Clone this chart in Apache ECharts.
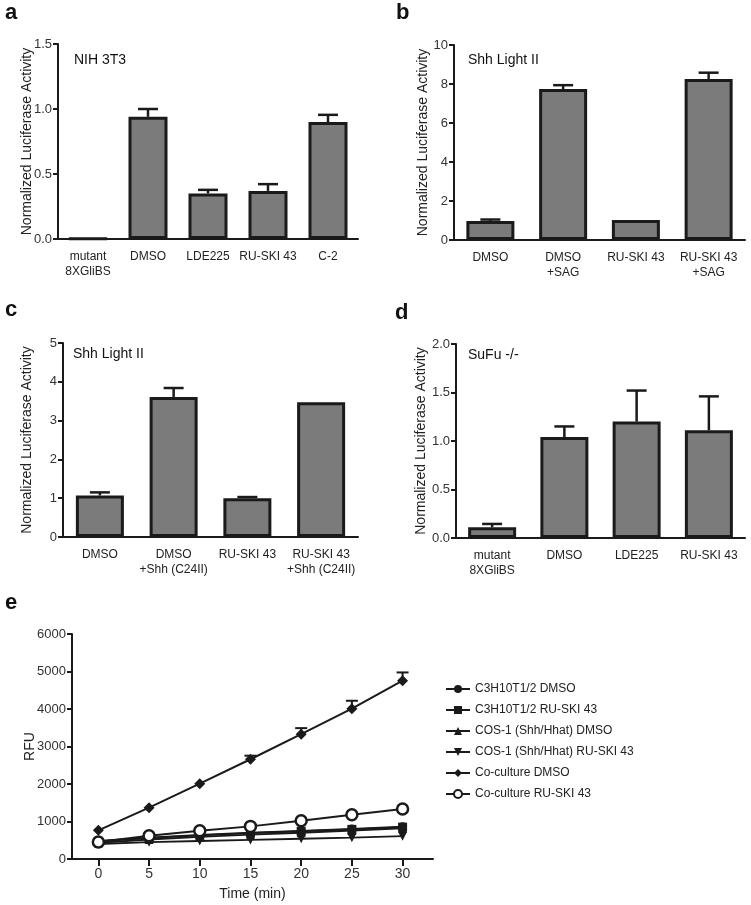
<!DOCTYPE html>
<html>
<head>
<meta charset="utf-8">
<script src="https://cdn.jsdelivr.net/npm/echarts@6/dist/echarts.min.js"></script>
<style>
  html, body { margin: 0; padding: 0; background: #fff; }
  #chart { width: 751px; height: 905px; }
</style>
</head>
<body>
<div id="chart"></div>
<script>
// panel a - NIH 3T3
const catsA = ["mutant\n8XGliBS", "DMSO", "LDE225", "RU-SKI 43", "C-2"];
const valsA = [0.005, 0.94, 0.35, 0.37, 0.9];
const errA = [0.005, 1.0, 0.378, 0.422, 0.955];

// panel b - Shh Light II + SAG
const catsB = ["DMSO", "DMSO\n+SAG", "RU-SKI 43", "RU-SKI 43\n+SAG"];
const valsB = [0.98, 7.74, 1.02, 8.26];
const errB = [1.05, 7.94, 1.02, 8.58];

// panel c - Shh Light II + Shh (C24II)
const catsC = ["DMSO", "DMSO\n+Shh (C24II)", "RU-SKI 43", "RU-SKI 43\n+Shh (C24II)"];
const valsC = [1.07, 3.61, 1.0, 3.47];
const errC = [1.15, 3.84, 1.03, 3.47];

// panel d - SuFu -/-
const catsD = ["mutant\n8XGliBS", "DMSO", "LDE225", "RU-SKI 43"];
const valsD = [0.11, 1.04, 1.2, 1.11];
const errD = [0.145, 1.15, 1.52, 1.46];

// panel e - RFU over time
const timeE = [0, 5, 10, 15, 20, 25, 30];
const c3hDmso = [480, 570, 640, 700, 750, 800, 860];
const c3hRuski = [470, 560, 630, 690, 740, 790, 850];
const cosDmso = [430, 520, 590, 650, 700, 760, 820];
const cosRuski = [400, 450, 480, 510, 540, 570, 610];
const coDmso = [765, 1370, 2010, 2660, 3330, 4010, 4755];
const coDmsoErr = [765, 1370, 2010, 2755, 3490, 4220, 4975];
const coRuski = [455, 620, 755, 870, 1020, 1180, 1335];
const timeTicks = [0, 5, 10, 15, 20, 25, 30];

const FONT = "Liberation Sans, Arial, sans-serif";
const INK = "#1a1a1a";
const BAR = "#7b7b7b";

const chart = echarts.init(document.getElementById("chart"));

function pairs(xs, ys) {
  return xs.map((x, i) => [x, ys[i]]);
}

// upward error bar with a cap; nothing drawn when there is no error
function errorRender(cap, lw) {
  return function (params, api) {
    if (api.value(2) <= api.value(1)) return null;
    const p0 = api.coord([api.value(0), api.value(1)]);
    const p1 = api.coord([api.value(0), api.value(2)]);
    const st = { stroke: INK, lineWidth: lw };
    return {
      type: "group",
      children: [
        { type: "line", shape: { x1: p0[0], y1: p0[1], x2: p1[0], y2: p1[1] }, style: st },
        { type: "line", shape: { x1: p1[0] - cap / 2, y1: p1[1], x2: p1[0] + cap / 2, y2: p1[1] }, style: st },
      ],
    };
  };
}

function errorSeries(idx, vals, tops, cap) {
  return {
    type: "custom",
    xAxisIndex: idx,
    yAxisIndex: idx,
    z: 1,
    silent: true,
    data: vals.map((v, i) => [i, v, tops[i]]),
    renderItem: errorRender(cap, 2.5),
  };
}

function barSeries(idx, vals, width) {
  return {
    type: "bar",
    xAxisIndex: idx,
    yAxisIndex: idx,
    barWidth: width,
    z: 2,
    itemStyle: { color: BAR, borderColor: INK, borderWidth: 3 },
    data: vals,
  };
}

function catAxis(idx, cats) {
  return {
    type: "category",
    gridIndex: idx,
    data: cats,
    axisLine: { onZero: false, lineStyle: { color: INK, width: 2 } },
    axisTick: { alignWithLabel: true, length: 7, lineStyle: { color: INK, width: 2 } },
    axisLabel: { color: "#222", fontFamily: FONT, fontSize: 12, lineHeight: 15, margin: 10, interval: 0 },
  };
}

function valAxis(idx, max, step, digits, gap) {
  return {
    type: "value",
    gridIndex: idx,
    min: 0,
    max: max,
    interval: step,
    name: "Normalized Luciferase Activity",
    nameLocation: "middle",
    nameGap: gap,
    nameMoveOverlap: false,
    nameTextStyle: { color: "#222", fontFamily: FONT, fontSize: 14 },
    splitLine: { show: false },
    axisLine: { show: true, onZero: false, lineStyle: { color: INK, width: 2 } },
    axisTick: { show: true, length: 5, lineStyle: { color: INK, width: 2 } },
    axisLabel: {
      color: "#333",
      fontFamily: FONT,
      fontSize: 13,
      margin: 6,
      formatter: (v) => v.toFixed(digits),
    },
  };
}

function lineSeries(name, ys, symbol, size, extra) {
  return Object.assign({
    name: name,
    type: "line",
    xAxisIndex: 4,
    yAxisIndex: 4,
    data: pairs(timeE, ys),
    symbol: symbol,
    symbolSize: size,
    lineStyle: { color: INK, width: 2 },
    itemStyle: { color: INK },
  }, extra || {});
}

function label(text, left, top, size, bold) {
  return {
    text: text,
    left: left,
    top: top,
    padding: 0,
    textStyle: { fontFamily: FONT, fontSize: size, fontWeight: bold ? "bold" : "normal", color: "#111" },
  };
}

const option = {
  backgroundColor: "#fff",
  animation: false,
  title: [
    label("a", 5, 2, 22, true),
    label("b", 396, 2, 22, true),
    label("c", 5, 299, 22, true),
    label("d", 395, 302, 22, true),
    label("e", 5, 592, 22, true),
    label("NIH 3T3", 74, 53, 14),
    label("Shh Light II", 468, 53, 14),
    label("Shh Light II", 73, 347, 14),
    label("SuFu -/-", 468, 348, 14),
  ],
  legend: {
    orient: "vertical",
    left: 440,
    top: 678,
    itemWidth: 24,
    itemHeight: 10,
    itemGap: 9,
    textStyle: { fontFamily: FONT, fontSize: 12, color: "#222" },
    data: [
      "C3H10T1/2 DMSO",
      "C3H10T1/2 RU-SKI 43",
      "COS-1 (Shh/Hhat) DMSO",
      "COS-1 (Shh/Hhat) RU-SKI 43",
      "Co-culture DMSO",
      "Co-culture RU-SKI 43",
    ],
  },
  grid: [
    { left: 58, top: 44, width: 300, height: 195 },
    { left: 454, top: 45, width: 291, height: 195 },
    { left: 63, top: 343, width: 295, height: 194 },
    { left: 456, top: 344, width: 289, height: 194 },
    { left: 72, top: 634, width: 361, height: 225 },
  ],
  xAxis: [
    catAxis(0, catsA),
    catAxis(1, catsB),
    catAxis(2, catsC),
    catAxis(3, catsD),
    {
      type: "value",
      gridIndex: 4,
      min: -2.6,
      max: 33,
      name: "Time (min)",
      nameLocation: "middle",
      nameGap: 28,
      nameTextStyle: { color: "#222", fontFamily: FONT, fontSize: 14 },
      splitLine: { show: false },
      axisLine: { onZero: false, lineStyle: { color: INK, width: 2 } },
      axisTick: { length: 7, customValues: timeTicks, lineStyle: { color: INK, width: 2 } },
      axisLabel: { customValues: timeTicks, color: "#333", fontFamily: FONT, fontSize: 14, margin: 8 },
    },
  ],
  yAxis: [
    valAxis(0, 1.5, 0.5, 1, 24),
    valAxis(1, 10, 2, 0, 24),
    valAxis(2, 5, 1, 0, 29),
    valAxis(3, 2.0, 0.5, 1, 28),
    Object.assign(valAxis(4, 6000, 1000, 0, 35), { name: "RFU" }),
  ],
  series: [
    barSeries(0, valsA, 39),
    errorSeries(0, valsA, errA, 20),
    barSeries(1, valsB, 48),
    errorSeries(1, valsB, errB, 20),
    barSeries(2, valsC, 48),
    errorSeries(2, valsC, errC, 20),
    barSeries(3, valsD, 48),
    errorSeries(3, valsD, errD, 20),
    lineSeries("C3H10T1/2 DMSO", c3hDmso, "circle", 9),
    lineSeries("C3H10T1/2 RU-SKI 43", c3hRuski, "rect", 9),
    lineSeries("COS-1 (Shh/Hhat) DMSO", cosDmso, "triangle", 9),
    lineSeries("COS-1 (Shh/Hhat) RU-SKI 43", cosRuski, "triangle", 9, { symbolRotate: 180 }),
    lineSeries("Co-culture DMSO", coDmso, "diamond", 11),
    {
      type: "custom",
      xAxisIndex: 4,
      yAxisIndex: 4,
      silent: true,
      data: timeE.map((t, i) => [t, coDmso[i], coDmsoErr[i]]),
      renderItem: errorRender(12, 2),
    },
    lineSeries("Co-culture RU-SKI 43", coRuski, "circle", 11, {
      z: 5,
      itemStyle: { color: "#fff", borderColor: INK, borderWidth: 2.5 },
    }),
  ],
};

chart.setOption(option);
</script>
</body>
</html>
